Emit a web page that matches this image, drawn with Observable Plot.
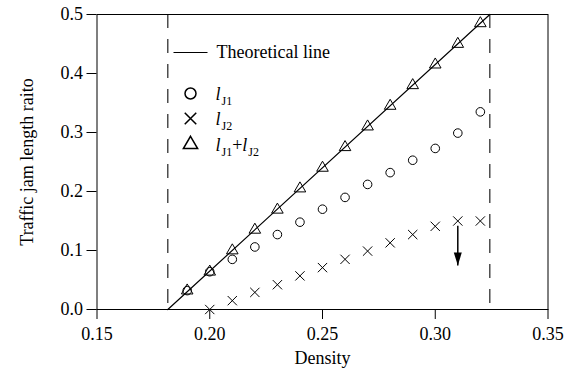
<!DOCTYPE html>
<html>
<head>
<meta charset="utf-8">
<script src="https://cdn.jsdelivr.net/npm/d3@7"></script>
<script src="https://cdn.jsdelivr.net/npm/@observablehq/plot@0.6"></script>
<style>
  body { margin: 0; background: white; }
  svg text { font-family: "Liberation Serif", "Times New Roman", serif; }
</style>
</head>
<body>
<div id="chart"></div>
<script>
// ---- data ----
const density = [0.19, 0.20, 0.21, 0.22, 0.23, 0.24, 0.25, 0.26, 0.27, 0.28, 0.29, 0.30, 0.31, 0.32];
const lJ1     = [0.032, 0.064, 0.085, 0.106, 0.127, 0.148, 0.170, 0.190, 0.212, 0.232, 0.253, 0.273, 0.299, 0.335];
const lJ2     = [null, 0.000, 0.015, 0.029, 0.042, 0.057, 0.071, 0.085, 0.099, 0.113, 0.127, 0.141, 0.150, 0.150];
const lSum    = [0.032, 0.064, 0.100, 0.135, 0.169, 0.205, 0.240, 0.275, 0.310, 0.345, 0.380, 0.415, 0.450, 0.485];

const theoryX = [0.1814, 0.3242];
const theoryY = [0.0, 0.5];
const boundaryX = [0.1814, 0.3242];

const arrowX = [0.31];
const arrowFrom = [0.142];
const arrowTo = [0.0746];

const xTicks = [0.15, 0.20, 0.25, 0.30, 0.35];
const yTicks = [0.0, 0.1, 0.2, 0.3, 0.4, 0.5];
const xLabel = "Density";
const yLabel = "Traffic jam length raito";
const legendLine = "Theoretical line";
const legendLabels = ["l_J1", "l_J2", "l_J1+l_J2"];

// ---- tables built from arrays ----
const pts = density.map((d, i) => ({x: d, j1: lJ1[i], j2: lJ2[i], s: lSum[i]}));
const theory = theoryX.map((x, i) => ({x, y: theoryY[i]}));
const arrows = arrowX.map((x, i) => ({x, y1: arrowFrom[i], y2: arrowTo[i]}));

const headSymbol = {
  draw(ctx) { ctx.moveTo(0, 0); ctx.lineTo(-4, -13); ctx.lineTo(4, -13); ctx.closePath(); }
};
const lineSymbol = {
  draw(ctx) { ctx.moveTo(-17, 0); ctx.lineTo(17, 0); }
};

const font = "'Liberation Serif', 'Times New Roman', serif";

const chart = Plot.plot({
  width: 574,
  height: 381,
  marginLeft: 96.5,
  marginRight: 26.5,
  marginTop: 14,
  marginBottom: 72,
  style: {fontFamily: font, fontSize: "18px", background: "white", color: "black"},
  x: {domain: [0.15, 0.35]},
  y: {domain: [0, 0.5]},
  marks: [
    Plot.axisX({ticks: xTicks, tickSize: 10, tickPadding: 8, tickFormat: d3.format(".2f"), label: null, fontFamily: font}),
    Plot.axisY({ticks: yTicks, tickSize: 10, tickPadding: 4, tickFormat: d3.format(".1f"), label: null, fontFamily: font}),
    Plot.ruleX(boundaryX, {y1: 0.5, y2: 0, stroke: "#222", strokeWidth: 1.2, strokeDasharray: "14,11"}),
    Plot.line(theory, {x: "x", y: "y", stroke: "black", strokeWidth: 1.2}),
    Plot.dot(pts, {x: "x", y: "j1", symbol: "circle", r: 4.3, stroke: "black", strokeWidth: 1}),
    Plot.dot(pts.filter(d => d.j2 != null), {x: "x", y: "j2", symbol: "times", r: 4.3, stroke: "black", strokeWidth: 1}),
    Plot.dot(pts, {x: "x", y: "s", symbol: "triangle", r: 4.3, stroke: "black", strokeWidth: 1}),
    Plot.link(arrows, {x1: "x", x2: "x", y1: "y1", y2: "y2", stroke: "black", strokeWidth: 1.5}),
    Plot.dot(arrows, {x: "x", y: "y2", symbol: headSymbol, fill: "black", stroke: "none"}),
    // legend
    Plot.dot([legendLine], {frameAnchor: "top-left", dx: 93.5, dy: 38, symbol: lineSymbol, stroke: "black", strokeWidth: 1.2}),
    Plot.text([legendLine], {frameAnchor: "top-left", dx: 119.5, dy: 38, textAnchor: "start", lineAnchor: "middle", fill: "black", fontFamily: font}),
    Plot.dot([0], {frameAnchor: "top-left", dx: 93.5, dy: 79, symbol: "circle", r: 5.5, stroke: "black"}),
    Plot.dot([0], {frameAnchor: "top-left", dx: 93.5, dy: 104, symbol: "times", r: 5.3, stroke: "black"}),
    Plot.dot([0], {frameAnchor: "top-left", dx: 93.5, dy: 130, symbol: "triangle", r: 5.3, stroke: "black"}),
    Plot.text([legendLabels[0]], {frameAnchor: "top-left", dx: 118.5, dy: 80, textAnchor: "start", lineAnchor: "middle", fill: "black", fontFamily: font}),
    Plot.text([legendLabels[1]], {frameAnchor: "top-left", dx: 118.5, dy: 105, textAnchor: "start", lineAnchor: "middle", fill: "black", fontFamily: font}),
    Plot.text([legendLabels[2]], {frameAnchor: "top-left", dx: 118.5, dy: 131, textAnchor: "start", lineAnchor: "middle", fill: "black", fontFamily: font}),
    // axis titles
    Plot.text([xLabel], {frameAnchor: "bottom", dy: 49, textAnchor: "middle", lineAnchor: "middle", fill: "black", fontFamily: font}),
    Plot.text([yLabel], {frameAnchor: "left", dx: -69.5, rotate: -90, textAnchor: "middle", lineAnchor: "middle", fill: "black", fontFamily: font}),
    Plot.frame({stroke: "black", strokeWidth: 1})
  ]
});

// rich text for legend labels (italic l, subscript J1/J2)
d3.select(chart).selectAll("text").each(function() {
  const s = this.textContent;
  if (!/^l_J/.test(s)) return;
  const el = d3.select(this);
  el.text(null);
  const parts = s.split(/(l_J\d)/).filter(Boolean);
  let shifted = false;
  for (const p of parts) {
    const m = p.match(/^l_(J\d)$/);
    if (m) {
      el.append("tspan").attr("font-style", "italic").attr("dy", shifted ? -5 : null).text("l");
      el.append("tspan").attr("font-size", "12px").attr("dy", 5).attr("dx", 1).text(m[1]);
      shifted = true;
    } else {
      el.append("tspan").attr("dy", shifted ? -5 : null).text(p);
      shifted = false;
    }
  }
});

document.getElementById("chart").appendChild(chart);
</script>
</body>
</html>
